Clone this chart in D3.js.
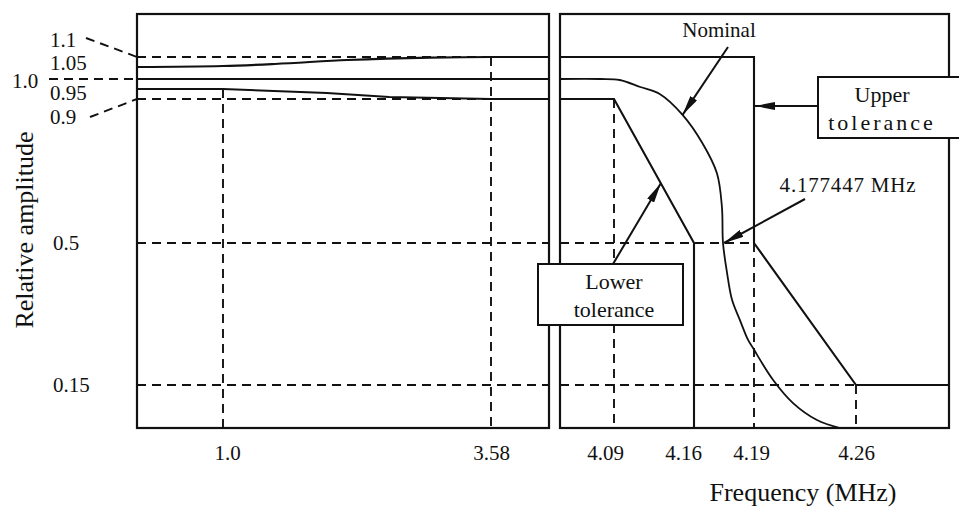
<!DOCTYPE html>
<html>
<head>
<meta charset="utf-8">
<script src="https://cdn.jsdelivr.net/npm/d3@7"></script>
<style>
  body { margin: 0; background: #fff; }
  svg text { font-family: "Liberation Serif", "DejaVu Serif", serif; fill: #111; }
</style>
</head>
<body>
<div id="chart"></div>
<script>
// vertical axis breakpoints (the drawing is schematic, not to scale)
const ampTicks = [1.1, 1.05, 1.0, 0.95, 0.9, 0.5, 0.15];
const ampTickLabels = ["1.1", "1.05", "1.0", "0.95", "0.9", "0.5", "0.15"];

// frequency breakpoints, low band and roll-off band
const freqTicksLow = [1.0, 3.58];
const freqLabelsLow = ["1.0", "3.58"];
const freqTicksHigh = [4.09, 4.16, 4.19, 4.26];
const freqLabelsHigh = ["4.09", "4.16", "4.19", "4.26"];

// low band (left panel)
const lowUpperFreq = [0, 1.0, 1.5, 2.2, 3.0, 3.58, 4.0];
const lowUpperAmp = [1.05, 1.055, 1.065, 1.085, 1.097, 1.1, 1.1];
const lowLowerFreq = [0, 1.0, 2.0, 2.6, 3.58, 4.0];
const lowLowerAmp = [0.95, 0.95, 0.93, 0.91, 0.9, 0.9];
const lowNominalFreq = [0, 4.0];
const lowNominalAmp = [1.0, 1.0];

// roll-off band (right panel)
const upperFreq = [4.0, 4.19, 4.19, 4.26, 4.33];
const upperAmp = [1.1, 1.1, 0.5, 0.15, 0.15];
const lowerFreq = [4.0, 4.09, 4.16, 4.16];
const lowerAmp = [0.9, 0.9, 0.5, 0];
const nominalFreq = [4.0, 4.067, 4.095, 4.113, 4.130, 4.150, 4.165, 4.1738, 4.1768, 4.177447,
                     4.1791, 4.1811, 4.1843, 4.1876, 4.1896, 4.203, 4.2168, 4.2332, 4.249];
const nominalAmp = [1.0, 1.0, 0.995, 0.96, 0.925, 0.856, 0.778, 0.694, 0.6, 0.5,
                    0.426, 0.36, 0.31, 0.261, 0.241, 0.163, 0.087, 0.028, 0.0];

const halfAmpFreq = 4.177447;

// dashed guide lines
const lowGuideAmps = [1.1, 0.9, 0.5, 0.15];
const lowGuideFreqs = [1.0, 3.58];
const lowGuideTops = [0.95, 1.1];
const highGuideAmps = [0.5, 0.15];
const highGuideEnds = [4.19, 4.26];
const highGuideFreqs = [4.09, 4.19, 4.26];
const highGuideTops = [0.9, 0.5, 0.15];

const width = 959, height = 508;

const y = d3.scaleLinear()
    .domain([0, 0.15, 0.5, 0.9, 0.95, 1.0, 1.05, 1.1, 1.25])
    .range([428, 385, 243, 99, 89, 79, 67, 57, 14]);

const xLow = d3.scaleLinear()
    .domain([0, 1.0, 3.58, 4.0])
    .range([137, 223, 491, 549]);

const xHigh = d3.scaleLinear()
    .domain([4.0, 4.09, 4.16, halfAmpFreq, 4.19, 4.26, 4.33])
    .range([560, 614, 694, 723, 754, 856, 949]);

const svg = d3.select("#chart").append("svg")
    .attr("width", width)
    .attr("height", height);

svg.append("defs").append("marker")
    .attr("id", "arrow")
    .attr("viewBox", "0 0 20 8")
    .attr("refX", 20).attr("refY", 4)
    .attr("markerWidth", 20).attr("markerHeight", 8)
    .attr("markerUnits", "userSpaceOnUse")
    .attr("orient", "auto")
  .append("path")
    .attr("d", "M0,0L20,4L0,8Z")
    .attr("fill", "#111");

const ink = "#111";
const dash = "9,6";

// panel frames
[[xLow, 0, 4.0], [xHigh, 4.0, 4.33]].forEach(([x, f0, f1]) => {
    svg.append("rect")
        .attr("x", x(f0)).attr("y", y(1.25))
        .attr("width", x(f1) - x(f0)).attr("height", y(0) - y(1.25))
        .attr("fill", "none").attr("stroke", ink).attr("stroke-width", 2.2);
});

const guides = svg.append("g")
    .attr("stroke", ink).attr("stroke-width", 1.9)
    .attr("stroke-dasharray", dash).attr("fill", "none");

lowGuideAmps.forEach(a => {
    guides.append("line")
        .attr("x1", xLow(0)).attr("x2", xLow(4.0))
        .attr("y1", y(a)).attr("y2", y(a));
});
lowGuideFreqs.forEach((f, i) => {
    guides.append("line")
        .attr("x1", xLow(f)).attr("x2", xLow(f))
        .attr("y1", y(lowGuideTops[i])).attr("y2", y(0));
});
highGuideAmps.forEach((a, i) => {
    guides.append("line")
        .attr("x1", xHigh(4.0)).attr("x2", xHigh(highGuideEnds[i]))
        .attr("y1", y(a)).attr("y2", y(a));
});
highGuideFreqs.forEach((f, i) => {
    guides.append("line")
        .attr("x1", xHigh(f)).attr("x2", xHigh(f))
        .attr("y1", y(highGuideTops[i])).attr("y2", y(0));
});

// tolerance and nominal curves
function drawLine(x, fs, as, w, curve) {
    const line = d3.line()
        .x(d => x(d[0]))
        .y(d => y(d[1]))
        .curve(curve || d3.curveLinear);
    svg.append("path")
        .attr("d", line(fs.map((f, i) => [f, as[i]])))
        .attr("fill", "none")
        .attr("stroke", ink)
        .attr("stroke-width", w);
}

drawLine(xLow, lowUpperFreq, lowUpperAmp, 2.1, d3.curveMonotoneX);
drawLine(xLow, lowLowerFreq, lowLowerAmp, 2.1);
drawLine(xLow, lowNominalFreq, lowNominalAmp, 2.1);
drawLine(xHigh, upperFreq, upperAmp, 2.1);
drawLine(xHigh, lowerFreq, lowerAmp, 2.1);
drawLine(xHigh, nominalFreq, nominalAmp, 1.8, d3.curveCatmullRom.alpha(0.5));

// y tick labels, the crowded ones near 1.0 are spread out with leaders
const yLabelPos = {
    "1.1": [50, 40], "1.05": [50, 63], "1.0": [12, 81],
    "0.95": [50, 93], "0.9": [50, 117]
};
ampTicks.forEach((a, i) => {
    const lab = ampTickLabels[i];
    const p = yLabelPos[lab] || [53, y(a)];
    svg.append("text")
        .attr("x", p[0]).attr("y", p[1]).attr("dy", "0.35em")
        .attr("font-size", 21)
        .text(lab);
});
const leaders = [
    [[86, 38], [xLow(0), y(1.1)]],
    [[49, 79], [xLow(0), y(1.0)]],
    [[90, 117], [xLow(0), y(0.9)]]
];
leaders.forEach(([p, q]) => {
    guides.append("line")
        .attr("x1", p[0]).attr("y1", p[1])
        .attr("x2", q[0]).attr("y2", q[1]);
});

// x tick labels via axes without ticks
const labelNudge = { "1.0": 4, "4.09": -9, "4.16": -11, "4.19": -3 };
function xAxis(x, ticks, labels) {
    const g = svg.append("g")
        .attr("transform", "translate(0," + y(0) + ")")
        .call(d3.axisBottom(x).tickValues(ticks)
            .tickFormat((d, i) => labels[i])
            .tickSize(0).tickPadding(17));
    g.select(".domain").remove();
    g.selectAll("text")
        .attr("font-size", 21)
        .attr("font-family", "Liberation Serif, serif")
        .attr("fill", ink)
        .attr("dx", function() { return labelNudge[this.textContent] || 0; });
}
xAxis(xLow, freqTicksLow, freqLabelsLow);
xAxis(xHigh, freqTicksHigh, freqLabelsHigh);

// axis titles
svg.append("text")
    .attr("transform", "translate(33,230) rotate(-90)")
    .attr("text-anchor", "middle")
    .attr("font-size", 26)
    .text("Relative amplitude");

svg.append("text")
    .attr("x", 803).attr("y", 501)
    .attr("text-anchor", "middle")
    .attr("font-size", 26)
    .text("Frequency (MHz)");

// annotation boxes
function box(x0, y0, w, h, lines, cx, spacing) {
    svg.append("rect")
        .attr("x", x0).attr("y", y0).attr("width", w).attr("height", h)
        .attr("fill", "#fff").attr("stroke", ink).attr("stroke-width", 2);
    lines.forEach((t, i) => {
        svg.append("text")
            .attr("x", cx).attr("y", y0 + 25 + i * 28)
            .attr("text-anchor", "middle")
            .attr("font-size", 22)
            .attr("letter-spacing", spacing[i])
            .text(t);
    });
}
box(818, 77, 170, 61, ["Upper", "tolerance"], 882, [0, 3]);
box(538, 264, 145, 61, ["Lower", "tolerance"], 614, [0, 0]);

// arrows
const lowerTip = 4.131;
const lowerTipAmp = d3.scaleLinear().domain([4.09, 4.16]).range([0.9, 0.5])(lowerTip);
const arrows = [
    [[728, 47], [xHigh(4.150), y(0.856)]],
    [[818, 106], [xHigh(4.19) + 1, 106]],
    [[613, 264], [xHigh(lowerTip), y(lowerTipAmp)]],
    [[805, 199], [xHigh(halfAmpFreq) + 1, y(0.5)]]
];
arrows.forEach(([p, q]) => {
    svg.append("line")
        .attr("x1", p[0]).attr("y1", p[1])
        .attr("x2", q[0]).attr("y2", q[1])
        .attr("stroke", ink).attr("stroke-width", 2)
        .attr("marker-end", "url(#arrow)");
});

svg.append("text")
    .attr("x", 719).attr("y", 37)
    .attr("text-anchor", "middle")
    .attr("font-size", 21)
    .text("Nominal");

svg.append("text")
    .attr("x", 848).attr("y", 192)
    .attr("text-anchor", "middle")
    .attr("font-size", 21)
    .attr("letter-spacing", 0.8)
    .text(halfAmpFreq + " MHz");
</script>
</body>
</html>
